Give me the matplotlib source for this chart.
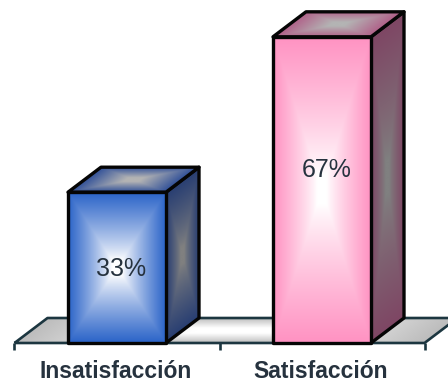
import numpy as np
import matplotlib
matplotlib.use("Agg")
import matplotlib.pyplot as plt
from matplotlib.colors import to_rgb
from matplotlib.patches import Polygon

plt.rcParams["font.family"] = ["Liberation Sans", "DejaVu Sans"]

# Chart data
categories = ["Insatisfacción", "Satisfacción"]
values = [33, 67]
value_labels = ["33%", "67%"]

# Per-bar palette: front edge, side edge, top edge
front_colors = ["#2a63c8", "#ff92c2"]
side_colors = ["#283e72", "#7e4664"]
top_colors = ["#2f4f98", "#b05f88"]
label_heights = [0.49, 0.565]

W, H = 448, 381
PX_PER_CAT, PX_PER_PCT = 205.0, 4.57
X0_PX, Y0_PX = 117.0, 343.0
HALF_W = 49.0 / PX_PER_CAT
DEPTH_X = 33.0 / PX_PER_CAT
DEPTH_Y = 25.0 / PX_PER_PCT
OUTLINE = "#050505"
FLOOR_LINE = "#1c3640"
TEXT = "#26323e"

fig = plt.figure(figsize=(W / 100, H / 100), dpi=100, facecolor="white")
ax = fig.add_axes([0, 0, 1, 1])
xlim = (-X0_PX / PX_PER_CAT, (W - X0_PX) / PX_PER_CAT)
ylim = (-(H - Y0_PX) / PX_PER_PCT, Y0_PX / PX_PER_PCT)
ax.axis("off")


def shaded_face(origin, vec_a, vec_b, edge, centre, plateau, z, lw, line, gamma=1.0):
    """Fill a parallelogram with a pyramid gradient from its rim to its centre."""
    corners = np.array([origin, origin + vec_a, origin + vec_a + vec_b, origin + vec_b])
    lo, hi = corners.min(axis=0), corners.max(axis=0)
    xs = np.linspace(lo[0], hi[0], 300)
    ys = np.linspace(lo[1], hi[1], 300)
    gx, gy = np.meshgrid(xs, ys)
    inv = np.linalg.inv(np.column_stack([vec_a, vec_b]))
    u = inv[0, 0] * (gx - origin[0]) + inv[0, 1] * (gy - origin[1])
    v = inv[1, 0] * (gx - origin[0]) + inv[1, 1] * (gy - origin[1])
    t = np.clip(np.maximum(np.abs(2 * u - 1), np.abs(2 * v - 1)), 0, 1)
    t = (np.clip((t - plateau) / (1 - plateau), 0, 1) ** gamma)[..., None]
    img = np.array(to_rgb(centre)) * (1 - t) + np.array(to_rgb(edge)) * t
    im = ax.imshow(img, extent=(lo[0], hi[0], lo[1], hi[1]), origin="lower",
                   aspect="auto", zorder=z, interpolation="bilinear")
    poly = Polygon(corners, closed=True, facecolor="none", edgecolor=line,
                   linewidth=lw, joinstyle="round", zorder=z + 0.1)
    ax.add_patch(poly)
    im.set_clip_path(poly)


# Floor slab and its tick marks
positions = np.arange(len(categories))
floor_left = positions[0] - 0.5
floor_w = float(len(categories))
shaded_face(np.array([floor_left, 0.0]), np.array([floor_w, 0.0]),
            np.array([DEPTH_X, DEPTH_Y]), "#bcbcbc", "#ffffff", 0.2, 1, 1.9, FLOOR_LINE)
ax.vlines(np.arange(len(categories) + 1) + floor_left, -7 / PX_PER_PCT, 0,
          color=FLOOR_LINE, lw=1.9, zorder=1.2)

# Bars: side, top and front faces
for pos, val, fc, sc, tc in zip(positions, values, front_colors, side_colors, top_colors):
    left, right = pos - HALF_W, pos + HALF_W
    depth = np.array([DEPTH_X, DEPTH_Y])
    shaded_face(np.array([right, 0.0]), depth, np.array([0.0, val]),
                sc, "#808080", 0.12, 2, 2.4, OUTLINE, gamma=0.8)
    shaded_face(np.array([left, float(val)]), np.array([right - left, 0.0]), depth,
                tc, "#b4b4b4", 0.15, 2.5, 2.4, OUTLINE)
    shaded_face(np.array([left, 0.0]), np.array([right - left, 0.0]), np.array([0.0, val]),
                fc, "#ffffff", 0.1, 3, 2.4, OUTLINE, gamma=0.85)

# Value labels and category labels
for pos, val, lab, frac in zip(positions, values, value_labels, label_heights):
    ax.text(pos + 4.5 / PX_PER_CAT, val * frac, lab, ha="center", va="center",
            fontsize=18, color=TEXT, zorder=5)
for pos, cat in zip(positions, categories):
    ax.text(pos - 1 / PX_PER_CAT, -28 / PX_PER_PCT, cat, ha="center", va="center",
            fontsize=16.5, fontweight="bold", color=TEXT, zorder=5)

ax.set_xlim(*xlim)
ax.set_ylim(*ylim)
fig.savefig("out.png", dpi=100, facecolor="white")
